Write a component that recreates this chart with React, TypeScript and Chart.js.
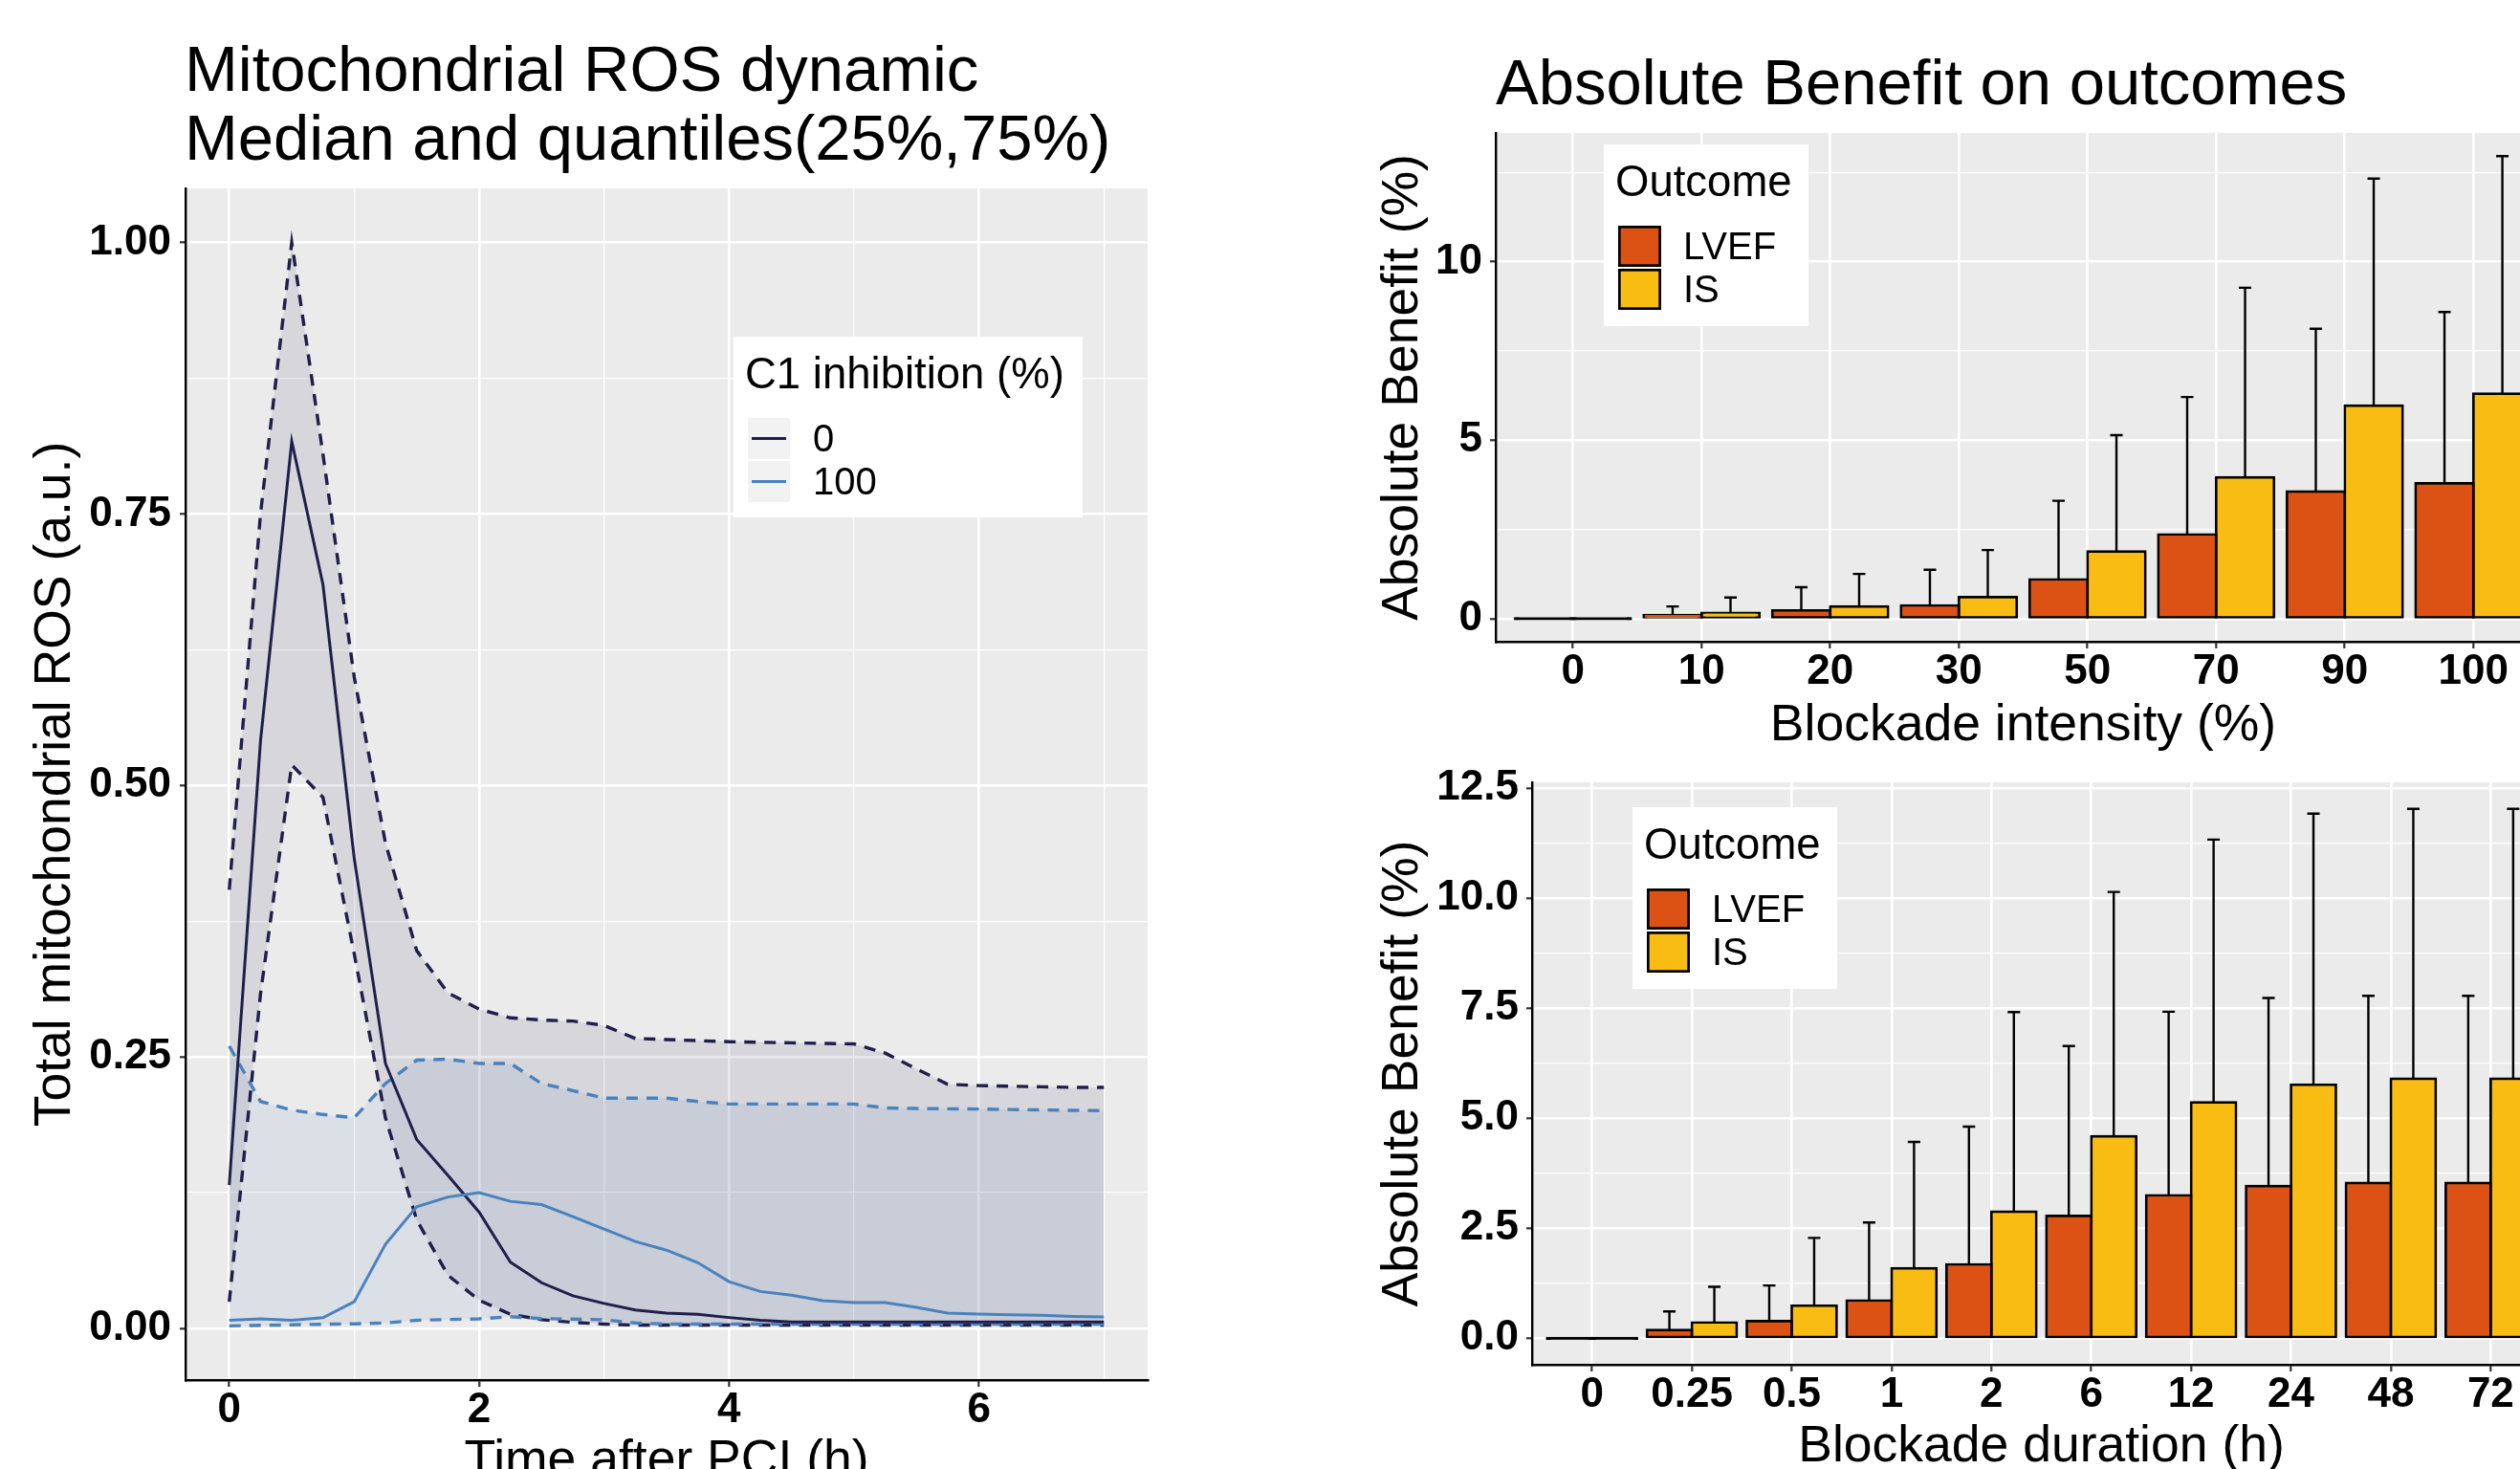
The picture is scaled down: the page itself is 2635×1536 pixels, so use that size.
import React, { useEffect, useRef } from 'react';
import { Chart, registerables } from 'chart.js';

Chart.register(...registerables);

const FONT = '"Liberation Sans", Arial, Helvetica, sans-serif';

// ---------------- Left panel: Mitochondrial ROS dynamic ----------------
const timeHours = [0, 0.25, 0.5, 0.75, 1, 1.25, 1.5, 1.75, 2, 2.25, 2.5, 2.75, 3, 3.25, 3.5, 3.75, 4, 4.25, 4.5, 4.75, 5, 5.25, 5.5, 5.75, 6, 6.25, 6.5, 6.75, 7];
const rosMedianC1_0 = [0.132, 0.541, 0.817, 0.685, 0.433, 0.244, 0.174, 0.141, 0.107, 0.061, 0.042, 0.030, 0.023, 0.017, 0.014, 0.013, 0.010, 0.0075, 0.006, 0.006, 0.006, 0.006, 0.006, 0.006, 0.006, 0.006, 0.006, 0.006, 0.006];
const rosQ75C1_0 = [0.404, 0.75, 1.0, 0.805, 0.60, 0.447, 0.348, 0.309, 0.294, 0.286, 0.284, 0.283, 0.279, 0.267, 0.266, 0.265, 0.264, 0.2635, 0.263, 0.2625, 0.262, 0.2535, 0.239, 0.2248, 0.2236, 0.223, 0.2225, 0.222, 0.222];
const rosQ25C1_0 = [0.0245, 0.308, 0.519, 0.489, 0.345, 0.194, 0.100, 0.049, 0.026, 0.013, 0.008, 0.0056, 0.004, 0.003, 0.003, 0.003, 0.003, 0.003, 0.003, 0.003, 0.003, 0.003, 0.003, 0.003, 0.003, 0.003, 0.003, 0.003, 0.003];
const rosMedianC1_100 = [0.0075, 0.0088, 0.0075, 0.0098, 0.0245, 0.0775, 0.112, 0.121, 0.125, 0.117, 0.114, 0.103, 0.0915, 0.080, 0.072, 0.0605, 0.043, 0.034, 0.0306, 0.0255, 0.0238, 0.0238, 0.0194, 0.0141, 0.0132, 0.0126, 0.012, 0.011, 0.0106];
const rosQ75C1_100 = [0.26, 0.209, 0.201, 0.197, 0.194, 0.2255, 0.247, 0.248, 0.244, 0.244, 0.2255, 0.219, 0.212, 0.212, 0.212, 0.209, 0.2066, 0.2066, 0.2066, 0.2066, 0.2066, 0.2031, 0.2025, 0.2022, 0.202, 0.2016, 0.2012, 0.2008, 0.2005];
const rosQ25C1_100 = [0.0023, 0.0028, 0.0033, 0.0038, 0.0042, 0.005, 0.0075, 0.0082, 0.0088, 0.0108, 0.009, 0.0085, 0.008, 0.005, 0.004, 0.004, 0.004, 0.004, 0.004, 0.004, 0.004, 0.004, 0.004, 0.004, 0.004, 0.004, 0.004, 0.004, 0.004];
const rosXMajorTicks = [0, 2, 4, 6];
const rosXMinorTicks = [1, 3, 5, 7];
const rosYMajorTicks = [0, 0.25, 0.5, 0.75, 1.0];
const rosYMinorTicks = [0.125, 0.375, 0.625, 0.875];
const rosLegendLabels = ['0', '100'];

// ---------------- Right top: Blockade intensity ----------------
const intensityCats = ['0', '10', '20', '30', '50', '70', '90', '100'];
const intensityLVEF = [0, 0.10, 0.23, 0.37, 1.10, 2.36, 3.56, 3.79];
const intensityLVEFUpper = [0, 0.34, 0.88, 1.37, 3.30, 6.21, 8.12, 8.59];
const intensityIS = [0, 0.16, 0.34, 0.60, 1.88, 3.96, 5.97, 6.30];
const intensityISUpper = [0, 0.59, 1.25, 1.92, 5.14, 9.27, 12.33, 12.96];
const intensityYMajorTicks = [0, 5, 10];
const intensityYMinorTicks = [2.5, 7.5, 12.5];

// ---------------- Right bottom: Blockade duration ----------------
const durationCats = ['0', '0.25', '0.5', '1', '2', '6', '12', '24', '48', '72'];
const durationLVEF = [0, 0.19, 0.39, 0.86, 1.68, 2.78, 3.25, 3.46, 3.53, 3.53];
const durationLVEFUpper = [0, 0.61, 1.20, 2.63, 4.81, 6.64, 7.42, 7.73, 7.78, 7.78];
const durationIS = [0, 0.36, 0.74, 1.59, 2.88, 4.59, 5.36, 5.76, 5.90, 5.90];
const durationISUpper = [0, 1.17, 2.28, 4.46, 7.41, 10.14, 11.33, 11.92, 12.03, 12.03];
const durationYMajorTicks = [0, 2.5, 5, 7.5, 10, 12.5];
const durationYMinorTicks = [1.25, 3.75, 6.25, 8.75, 11.25];

const outcomeLabels = ['LVEF', 'IS'];

const NAVY = '#1F1F4B';
const BLUE = '#4A82BE';
const NAVY_FILL = 'rgba(31,31,75,0.10)';
const BLUE_FILL = 'rgba(74,130,190,0.10)';
const LVEF_COLOR = '#DC5215';
const IS_COLOR = '#F9BC12';

const TICK_FONT = { family: FONT, size: 44, weight: 'bold' as const, lineHeight: 1 };
const AXIS_TITLE_FONT = { family: FONT, size: 53.5, weight: 'normal' as const, lineHeight: 1.2 };

const near = (a: number, b: number) => Math.abs(a - b) < 1e-9;
const inList = (list: number[], v: number) => list.some((x) => near(x, v));

function gridOpts(majors: number[], tickLength: number) {
  return {
    display: true,
    drawOnChartArea: true,
    drawTicks: true,
    tickLength,
    color: '#FFFFFF',
    lineWidth: (c: any) => (c.tick && inList(majors, c.tick.value) ? 2.6 : 1.3),
    tickColor: (c: any) => (c.tick && inList(majors, c.tick.value) ? '#333333' : 'rgba(0,0,0,0)'),
    tickWidth: 2.2,
  };
}

const panelBgPlugin = {
  id: 'panelBg',
  beforeDraw(chart: any) {
    const { ctx, chartArea: a } = chart;
    ctx.save();
    ctx.fillStyle = '#EBEBEB';
    ctx.fillRect(a.left, a.top, a.right - a.left, a.bottom - a.top);
    ctx.restore();
  },
};

const errorBarPlugin = {
  id: 'errorBars',
  afterDatasetsDraw(chart: any) {
    const ctx = chart.ctx;
    const yScale = chart.scales.y;
    ctx.save();
    ctx.strokeStyle = '#000000';
    ctx.lineWidth = 2.4;
    chart.data.datasets.forEach((ds: any, di: number) => {
      const upper: number[] | undefined = ds.upper;
      if (!upper) return;
      const meta = chart.getDatasetMeta(di);
      meta.data.forEach((el: any, i: number) => {
        const v = ds.data[i].y;
        const u = upper[i];
        if (!(u > v)) return;
        const yTop = yScale.getPixelForValue(u);
        const yBar = yScale.getPixelForValue(v);
        ctx.beginPath();
        ctx.moveTo(el.x, yBar);
        ctx.lineTo(el.x, yTop);
        ctx.moveTo(el.x - 6.5, yTop);
        ctx.lineTo(el.x + 6.5, yTop);
        ctx.stroke();
      });
    });
    ctx.restore();
  },
};

type LegendItem = { label: string; color: string; kind: 'line' | 'box' };

function drawLegend(ctx: CanvasRenderingContext2D, bx: number, by: number, w: number, h: number, title: string, items: LegendItem[]) {
  ctx.save();
  ctx.fillStyle = '#FFFFFF';
  ctx.fillRect(bx, by, w, h);
  ctx.fillStyle = '#000000';
  ctx.font = `45.5px ${FONT}`;
  ctx.textAlign = 'left';
  ctx.textBaseline = 'alphabetic';
  ctx.fillText(title, bx + 12, by + 54);
  items.forEach((it, i) => {
    const kx = bx + 15;
    const ky = by + 85 + i * 45;
    const kw = it.kind === 'line' ? 44 : 45;
    const kh = 43;
    if (it.kind === 'line') {
      ctx.fillStyle = '#F2F2F2';
      ctx.fillRect(kx, ky, kw, kh);
      ctx.strokeStyle = it.color;
      ctx.lineWidth = 3.2;
      ctx.beginPath();
      ctx.moveTo(kx + 4, ky + kh / 2);
      ctx.lineTo(kx + kw - 4, ky + kh / 2);
      ctx.stroke();
    } else {
      ctx.fillStyle = '#000000';
      ctx.fillRect(kx, ky, kw, kh);
      ctx.fillStyle = it.color;
      ctx.fillRect(kx + 2.7, ky + 2.7, kw - 5.4, kh - 5.4);
    }
    ctx.fillStyle = '#000000';
    ctx.font = `40px ${FONT}`;
    ctx.textBaseline = 'middle';
    ctx.fillText(it.label, bx + 83, ky + kh / 2 + 2);
  });
  ctx.restore();
}

function drawTitle(ctx: CanvasRenderingContext2D, lines: string[], x: number, y0: number, step: number) {
  ctx.save();
  ctx.fillStyle = '#000000';
  ctx.font = `67px ${FONT}`;
  ctx.textAlign = 'left';
  ctx.textBaseline = 'alphabetic';
  lines.forEach((t, i) => ctx.fillText(t, x, y0 + i * step));
  ctx.restore();
}

function rosConfig(): any {
  const span = Math.max(...timeHours) - Math.min(...timeHours);
  const xMin = Math.min(...timeHours) - 0.05 * span;
  const xMax = Math.max(...timeHours) + 0.05 * span;
  const allY = [...rosQ25C1_0, ...rosQ75C1_0, ...rosMedianC1_0, ...rosQ25C1_100, ...rosQ75C1_100, ...rosMedianC1_100];
  const dMin = Math.min(...allY);
  const dMax = Math.max(...allY);
  const yMin = dMin - 0.05 * (dMax - dMin);
  const yMax = dMax + 0.05 * (dMax - dMin);
  const pts = (ys: number[]) => ys.map((y, i) => ({ x: timeHours[i], y }));
  const dashed = { borderWidth: 3.4, borderDash: [12, 9] };
  const common = { pointRadius: 0, pointHoverRadius: 0, tension: 0 };
  const xAll = [...rosXMajorTicks, ...rosXMinorTicks].sort((a, b) => a - b);
  const yAll = [...rosYMajorTicks, ...rosYMinorTicks].sort((a, b) => a - b);
  const textPlugin = {
    id: 'rosTexts',
    afterDraw(chart: any) {
      const ctx = chart.ctx;
      const a = chart.chartArea;
      drawTitle(ctx, ['Mitochondrial ROS dynamic', 'Median and quantiles(25%,75%)'], a.left - 1, 95, 72);
      drawLegend(ctx, 767, 352, 365, 189, 'C1 inhibition (%)', [
        { label: rosLegendLabels[0], color: NAVY, kind: 'line' },
        { label: rosLegendLabels[1], color: BLUE, kind: 'line' },
      ]);
    },
  };
  return {
    type: 'line',
    data: {
      datasets: [
        { label: 'Q25 0', data: pts(rosQ25C1_0), borderColor: NAVY, fill: false, order: 4, ...dashed, ...common },
        { label: 'Q75 0', data: pts(rosQ75C1_0), borderColor: NAVY, backgroundColor: NAVY_FILL, fill: { target: 0 }, order: 6, ...dashed, ...common },
        { label: 'Median 0', data: pts(rosMedianC1_0), borderColor: NAVY, borderWidth: 3, fill: false, order: 2, ...common },
        { label: 'Q25 100', data: pts(rosQ25C1_100), borderColor: BLUE, fill: false, order: 3, ...dashed, ...common },
        { label: 'Q75 100', data: pts(rosQ75C1_100), borderColor: BLUE, backgroundColor: BLUE_FILL, fill: { target: 3 }, order: 5, ...dashed, ...common },
        { label: 'Median 100', data: pts(rosMedianC1_100), borderColor: BLUE, borderWidth: 3, fill: false, order: 1, ...common },
      ],
    },
    options: {
      responsive: false,
      animation: false,
      devicePixelRatio: 1,
      events: [],
      layout: { padding: { left: 0, top: 197, right: 100, bottom: 0 } },
      plugins: { legend: { display: false }, title: { display: false }, tooltip: { enabled: false } },
      scales: {
        x: {
          type: 'linear',
          min: xMin,
          max: xMax,
          afterBuildTicks: (s: any) => { s.ticks = xAll.map((v) => ({ value: v })); },
          afterFit: (s: any) => { s.height = 137; },
          ticks: {
            autoSkip: false, maxRotation: 0, padding: 3, color: '#000000', font: TICK_FONT,
            callback: (v: number) => (inList(rosXMajorTicks, v) ? String(v) : ''),
          },
          grid: gridOpts(rosXMajorTicks, 7),
          border: { display: true, color: '#000000', width: 2.4 },
          title: { display: true, text: 'Time after PCI (h)', color: '#000000', font: AXIS_TITLE_FONT, padding: { top: 0, bottom: 19.5 } },
        },
        y: {
          type: 'linear',
          min: yMin,
          max: yMax,
          afterBuildTicks: (s: any) => { s.ticks = yAll.map((v) => ({ value: v })); },
          afterFit: (s: any) => { s.width = 194; },
          ticks: {
            autoSkip: false, padding: 9, color: '#000000', font: TICK_FONT,
            callback: (v: number) => (inList(rosYMajorTicks, v) ? v.toFixed(2) : ''),
          },
          grid: gridOpts(rosYMajorTicks, 6),
          border: { display: true, color: '#000000', width: 2.4 },
          title: { display: true, text: 'Total mitochondrial ROS (a.u.)', color: '#000000', font: AXIS_TITLE_FONT, padding: { top: 26, bottom: 0 } },
        },
      },
    },
    plugins: [panelBgPlugin, textPlugin],
  };
}

function barConfig(opts: {
  cats: string[]; lvef: number[]; lvefUp: number[]; is: number[]; isUp: number[];
  yMajors: number[]; yMinors: number[]; yFmt: (v: number) => string;
  xTitle: string; yAxisWidth: number; padTop: number; xAxisHeight: number; xTitlePad: number;
  title: string | null; legendX: number; legendY: number;
}): any {
  const top = Math.max(...opts.lvefUp, ...opts.isUp);
  const n = opts.cats.length;
  const xAll = opts.cats.map((_, i) => i);
  const yAll = [...opts.yMajors, ...opts.yMinors].sort((a, b) => a - b);
  const bar = (vals: number[], color: string) => ({
    backgroundColor: (c: any) => (c.raw && c.raw.y === 0 ? '#000000' : color),
    borderColor: '#000000',
    borderWidth: 2.7,
    borderSkipped: false,
    inflateAmount: 1.35,
    minBarLength: 0.5,
    categoryPercentage: 0.9,
    barPercentage: 1.0,
    data: vals.map((y, i) => ({ x: i, y })),
  });
  const textPlugin = {
    id: 'barTexts',
    afterDraw(chart: any) {
      const ctx = chart.ctx;
      const a = chart.chartArea;
      if (opts.title) drawTitle(ctx, [opts.title], a.left, 109, 0);
      drawLegend(ctx, opts.legendX, opts.legendY, 214, 190, 'Outcome', [
        { label: outcomeLabels[0], color: LVEF_COLOR, kind: 'box' },
        { label: outcomeLabels[1], color: IS_COLOR, kind: 'box' },
      ]);
    },
  };
  return {
    type: 'bar',
    data: {
      datasets: [
        { label: outcomeLabels[0], upper: opts.lvefUp, ...bar(opts.lvef, LVEF_COLOR) },
        { label: outcomeLabels[1], upper: opts.isUp, ...bar(opts.is, IS_COLOR) },
      ],
    },
    options: {
      responsive: false,
      animation: false,
      devicePixelRatio: 1,
      events: [],
      layout: { padding: { left: 0, top: opts.padTop, right: 43, bottom: 0 } },
      plugins: { legend: { display: false }, title: { display: false }, tooltip: { enabled: false } },
      scales: {
        x: {
          type: 'linear',
          offset: false,
          min: -0.6,
          max: n - 1 + 0.6,
          afterBuildTicks: (s: any) => { s.ticks = xAll.map((v) => ({ value: v })); },
          afterFit: (s: any) => { s.height = opts.xAxisHeight; },
          ticks: {
            autoSkip: false, maxRotation: 0, padding: 3, color: '#000000', font: TICK_FONT,
            callback: (v: number) => (opts.cats[Math.round(v)] ?? ''),
          },
          grid: { ...gridOpts(xAll, 7), offset: false },
          border: { display: true, color: '#000000', width: 2.4 },
          title: { display: true, text: opts.xTitle, color: '#000000', font: AXIS_TITLE_FONT, padding: { top: 0, bottom: opts.xTitlePad } },
        },
        y: {
          type: 'linear',
          min: -0.05 * top,
          max: top * 1.05,
          afterBuildTicks: (s: any) => { s.ticks = yAll.map((v) => ({ value: v })); },
          afterFit: (s: any) => { s.width = opts.yAxisWidth; },
          ticks: {
            autoSkip: false, padding: 8, color: '#000000', font: TICK_FONT,
            callback: (v: number) => (inList(opts.yMajors, v) ? opts.yFmt(v) : ''),
          },
          grid: gridOpts(opts.yMajors, 6),
          border: { display: true, color: '#000000', width: 2.4 },
          title: { display: true, text: 'Absolute Benefit (%)', color: '#000000', font: AXIS_TITLE_FONT, padding: { top: 55, bottom: 0 } },
        },
      },
    },
    plugins: [panelBgPlugin, errorBarPlugin, textPlugin],
  };
}

function ChartCanvas(props: { left: number; top: number; width: number; height: number; make: () => any }) {
  const ref = useRef<HTMLCanvasElement | null>(null);
  useEffect(() => {
    if (!ref.current) return;
    const chart = new Chart(ref.current, props.make());
    return () => chart.destroy();
  }, []);
  return (
    <canvas
      ref={ref}
      width={props.width}
      height={props.height}
      style={{ position: 'absolute', left: props.left, top: props.top, width: props.width, height: props.height }}
    />
  );
}

export default function App() {
  return (
    <div style={{ position: 'fixed', left: 0, top: 0, width: 2635, height: 1536, overflow: 'hidden', background: '#FFFFFF' }}>
      <ChartCanvas left={0} top={0} width={1300} height={1580} make={rosConfig} />
      <ChartCanvas
        left={1380}
        top={0}
        width={1330}
        height={800}
        make={() => barConfig({
          cats: intensityCats, lvef: intensityLVEF, lvefUp: intensityLVEFUpper, is: intensityIS, isUp: intensityISUpper,
          yMajors: intensityYMajorTicks, yMinors: intensityYMinorTicks, yFmt: (v) => String(v),
          xTitle: 'Blockade intensity (%)', yAxisWidth: 184, padTop: 139, xAxisHeight: 129, xTitlePad: 8.9,
          title: 'Absolute Benefit on outcomes', legendX: 297, legendY: 151,
        })}
      />
      <ChartCanvas
        left={1380}
        top={780}
        width={1330}
        height={780}
        make={() => barConfig({
          cats: durationCats, lvef: durationLVEF, lvefUp: durationLVEFUpper, is: durationIS, isUp: durationISUpper,
          yMajors: durationYMajorTicks, yMinors: durationYMinorTicks, yFmt: (v) => v.toFixed(1),
          xTitle: 'Blockade duration (h)', yAxisWidth: 222, padTop: 38, xAxisHeight: 133, xTitlePad: 14.9,
          title: null, legendX: 327, legendY: 64,
        })}
      />
    </div>
  );
}
